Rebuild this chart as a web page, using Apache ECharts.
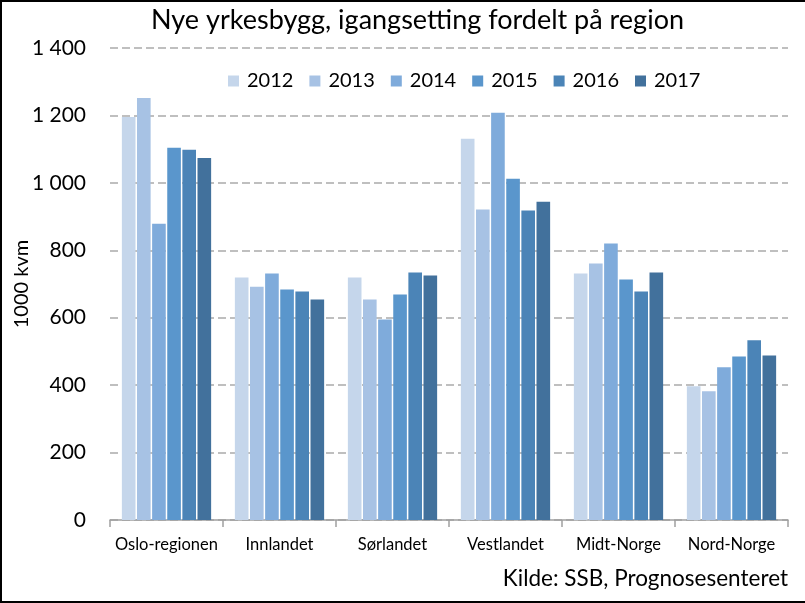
<!DOCTYPE html>
<html>
<head>
<meta charset="utf-8">
<script src="https://cdn.jsdelivr.net/npm/echarts@6/dist/echarts.min.js"></script>
<style>html,body{margin:0;padding:0;background:#fff}#c{width:805px;height:603px}</style>
</head>
<body>
<div id="c"></div>
<script>
const categories = ['Oslo-regionen', 'Innlandet', 'Sørlandet', 'Vestlandet', 'Midt-Norge', 'Nord-Norge'];
const years = ['2012', '2013', '2014', '2015', '2016', '2017'];
const v2012 = [1195, 719, 719, 1131, 731, 397];
const v2013 = [1252, 692, 654, 921, 761, 382];
const v2014 = [879, 731, 595, 1208, 820, 453];
const v2015 = [1104, 684, 669, 1012, 713, 485];
const v2016 = [1098, 678, 734, 918, 678, 533];
const v2017 = [1074, 654, 725, 944, 734, 488];
const yTicks = [0, 200, 400, 600, 800, 1000, 1200, 1400];
const colors = ['#C5D6EB', '#A7C2E4', '#7FABDB', '#5A96CC', '#4B84B7', '#42719C'];
const seriesValues = [v2012, v2013, v2014, v2015, v2016, v2017];

const FONT = 'Lato';
const chart = echarts.init(document.getElementById('c'), null, {renderer: 'canvas'});
chart.setOption({
  animation: false,
  backgroundColor: '#fff',
  color: colors,
  title: {
    text: 'Nye yrkesbygg, igangsetting fordelt på region',
    left: 151, top: 7, padding: 0,
    textStyle: {fontFamily: FONT, fontSize: 27, fontWeight: 'normal', color: '#000'}
  },
  legend: {
    data: years,
    left: 228, top: 71, padding: 0,
    itemWidth: 11, itemHeight: 11, itemGap: 16,
    icon: 'rect',
    textStyle: {fontFamily: FONT, fontSize: 20, color: '#000', padding: [0, 0, 0, 3]}
  },
  grid: {left: 110, right: 17, top: 48, bottom: 83, containLabel: false, outerBoundsMode: 'none'},
  xAxis: {
    type: 'category',
    data: categories,
    axisLine: {lineStyle: {color: '#A0A0A0', width: 1.5}},
    axisTick: {show: true, length: 7, interval: 0, lineStyle: {color: '#A0A0A0', width: 1.5}},
    axisLabel: {fontFamily: FONT, fontSize: 16.5, color: '#000', margin: 16, interval: 0}
  },
  yAxis: {
    type: 'value',
    min: yTicks[0], max: yTicks[yTicks.length - 1], interval: 200,
    name: '1000 kvm',
    nameLocation: 'middle', nameGap: 78, nameMoveOverlap: false,
    nameTextStyle: {fontFamily: FONT, fontSize: 20, color: '#000'},
    axisLine: {show: false},
    axisTick: {show: false},
    axisLabel: {
      fontFamily: FONT, fontSize: 21, color: '#000', margin: 24,
      formatter: v => String(v).replace(/\B(?=(\d{3})+(?!\d))/g, ' ')
    },
    splitLine: {lineStyle: {color: '#BFBFBF', width: 2, type: [8, 4]}}
  },
  series: years.map((y, i) => ({
    name: y,
    type: 'bar',
    data: seriesValues[i],
    barCategoryGap: '21%',
    barGap: '11%',
    itemStyle: {color: colors[i]}
  })),
  graphic: [
    {
      type: 'text', right: 17, top: 567,
      style: {text: 'Kilde: SSB, Prognosesenteret', font: '22.5px ' + FONT, fill: '#000'}
    },
    {
      type: 'rect', shape: {x: 1, y: 1, width: 900, height: 601},
      style: {fill: 'none', stroke: '#000', lineWidth: 2}, silent: true
    }
  ]
});
</script>
</body>
</html>
